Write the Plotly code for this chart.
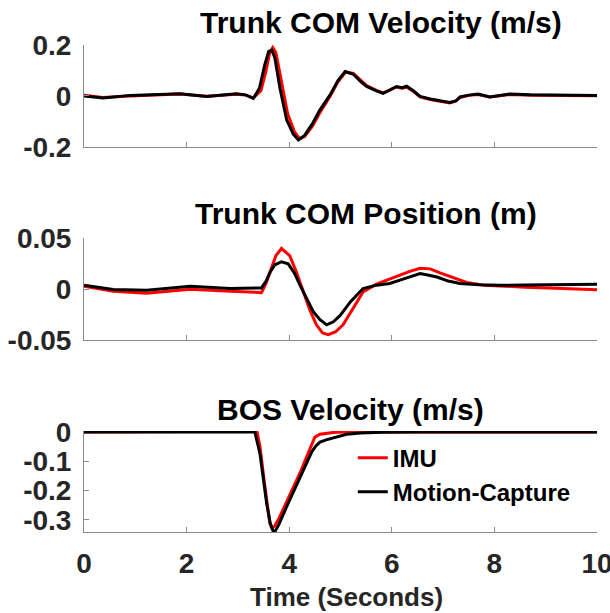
import plotly.graph_objects as go

# ---------------- data ----------------
# Panel 1: Trunk COM velocity (m/s)
t_vel_mc = [0, 0.37, 0.9, 1.4, 1.87, 2.39, 2.97, 3.15, 3.3, 3.42, 3.52, 3.6, 3.66, 3.72, 3.82, 3.95,
            4.08, 4.18, 4.3, 4.45, 4.6, 4.8, 4.95, 5.09, 5.25, 5.4, 5.51, 5.7, 5.83, 5.95, 6.09, 6.2,
            6.29, 6.42, 6.55, 6.75, 6.94, 7.13, 7.25, 7.33, 7.5, 7.68, 7.91, 8.1, 8.3, 8.7, 9.2, 9.6, 10]
v_vel_mc = [0, -0.008, 0.002, 0.006, 0.008, -0.002, 0.008, 0.004, -0.01, 0.03, 0.12, 0.175, 0.18, 0.15,
            0.03, -0.094, -0.15, -0.173, -0.155, -0.11, -0.055, 0.005, 0.06, 0.096, 0.085, 0.055, 0.037,
            0.02, 0.01, 0.022, 0.037, 0.032, 0.038, 0.02, -0.002, -0.012, -0.018, -0.026, -0.02, -0.004,
            0.003, 0.007, -0.004, 0.002, 0.007, 0.004, 0.003, 0.003, 0.002]
t_vel_imu = [0, 0.37, 0.9, 1.4, 1.87, 2.39, 2.97, 3.15, 3.3, 3.45, 3.55, 3.62, 3.68, 3.74, 3.84, 3.97,
             4.1, 4.2, 4.3, 4.45, 4.6, 4.8, 4.95, 5.1, 5.25, 5.4, 5.51, 5.7, 5.83, 5.95, 6.09, 6.2,
             6.29, 6.42, 6.55, 6.75, 6.94, 7.13, 7.25, 7.33, 7.5, 7.68, 7.91, 8.1, 8.3, 8.7, 9.2, 9.6, 10]
v_vel_imu = [0.003, -0.006, 0.0, 0.005, 0.007, -0.001, 0.006, 0.003, -0.008, 0.02, 0.1, 0.17, 0.19, 0.17,
             0.06, -0.07, -0.14, -0.168, -0.16, -0.12, -0.065, 0.0, 0.055, 0.094, 0.088, 0.058, 0.04,
             0.022, 0.012, 0.022, 0.035, 0.03, 0.034, 0.018, -0.004, -0.014, -0.02, -0.028, -0.02, -0.006,
             0.002, 0.005, -0.004, 0.001, 0.005, 0.003, 0.002, 0.002, 0.001]

# Panel 2: Trunk COM position (m)
t_pos_mc = [0, 0.57, 1.22, 2.07, 2.85, 3.2, 3.46, 3.55, 3.63, 3.72, 3.85, 3.98, 4.1, 4.21, 4.35, 4.47,
            4.6, 4.73, 4.86, 4.99, 5.2, 5.44, 5.7, 5.96, 6.16, 6.35, 6.55, 6.7, 6.88, 7.1, 7.33, 7.7,
            8.1, 8.6, 9.2, 9.92, 10]
p_pos_mc = [0.004, -0.0003, -0.001, 0.003, 0.0007, 0.001, 0.0013, 0.008, 0.017, 0.024, 0.027, 0.025,
            0.016, 0.004, -0.01, -0.022, -0.03, -0.035, -0.032, -0.026, -0.012, 0.0007, 0.004, 0.0056,
            0.0089, 0.012, 0.0154, 0.014, 0.012, 0.008, 0.0056, 0.0045, 0.0039, 0.0042, 0.0046, 0.0049,
            0.0049]
t_pos_imu = [0, 0.57, 1.22, 2.07, 2.85, 3.2, 3.46, 3.55, 3.63, 3.74, 3.85, 4.01, 4.14, 4.27, 4.4, 4.53,
             4.65, 4.76, 4.9, 5.05, 5.25, 5.44, 5.7, 5.9, 6.16, 6.35, 6.55, 6.75, 6.94, 7.2, 7.46, 7.8,
             8.1, 8.6, 9.2, 9.92, 10]
p_pos_imu = [0.003, -0.002, -0.004, 0.0, -0.002, -0.003, -0.0033, 0.006, 0.017, 0.033, 0.040, 0.033,
             0.017, -0.0026, -0.02, -0.035, -0.043, -0.0446, -0.042, -0.035, -0.018, -0.0026, 0.005,
             0.0089, 0.0138, 0.0175, 0.0205, 0.02, 0.016, 0.011, 0.0066, 0.004, 0.003, 0.002, 0.001,
             -0.0003, -0.0005]

# Panel 3: BOS velocity (m/s)
t_bos_mc = [0, 1.0, 2.0, 3.0, 3.33, 3.43, 3.5, 3.56, 3.63, 3.69, 3.72, 3.8, 3.95, 4.08, 4.21, 4.33,
            4.44, 4.52, 4.6, 4.72, 4.86, 5.0, 5.12, 5.4, 5.8, 6.5, 8.0, 10]
v_bos_mc = [0, 0, 0, 0, 0, -0.074, -0.17, -0.243, -0.31, -0.34, -0.34, -0.315, -0.255, -0.205, -0.153,
            -0.108, -0.068, -0.048, -0.035, -0.027, -0.02, -0.013, -0.008, -0.004, -0.001, 0, 0, 0]
t_bos_imu = [0, 1.0, 2.0, 3.0, 3.3, 3.37, 3.43, 3.5, 3.56, 3.62, 3.66, 3.72, 3.8, 3.95, 4.08, 4.21,
             4.34, 4.42, 4.5, 4.6, 4.73, 4.9, 5.2, 6.0, 8.0, 10]
v_bos_imu = [0, 0, 0, 0, 0.002, 0.003, -0.05, -0.15, -0.24, -0.31, -0.328, -0.32, -0.295, -0.24,
             -0.19, -0.14, -0.085, -0.05, -0.018, -0.008, -0.004, -0.001, 0, 0, 0, 0]

titles = ["Trunk COM Velocity (m/s)", "Trunk COM Position (m)", "BOS Velocity (m/s)"]
x_ticks = [0, 2, 4, 6, 8, 10]
y_ticks = [[-0.2, 0, 0.2], [-0.05, 0, 0.05], [-0.3, -0.2, -0.1, 0]]
y_ticklabels = [["-0.2", "0", "0.2"], ["-0.05", "0", "0.05"], ["-0.3", "-0.2", "-0.1", "0"]]
y_ranges = [[-0.2, 0.2], [-0.05, 0.05], [-0.341, 0.003]]
series_names = ["IMU", "Motion-Capture"]

# ---------------- figure ----------------
RED = "#ff0000"
BLACK = "#000000"
FONT = "Liberation Sans"
TXT = "#262626"
AX = "#8c8c8c"

fig = go.Figure()
panels = [
    (t_vel_imu, v_vel_imu, t_vel_mc, v_vel_mc),
    (t_pos_imu, p_pos_imu, t_pos_mc, p_pos_mc),
    (t_bos_imu, v_bos_imu, t_bos_mc, v_bos_mc),
]
for i, (ti, vi, tm, vm) in enumerate(panels):
    xa = "x" if i == 0 else f"x{i+1}"
    ya = "y" if i == 0 else f"y{i+1}"
    fig.add_trace(go.Scatter(x=ti, y=vi, mode="lines", line=dict(color=RED, width=3),
                             name=series_names[0], showlegend=(i == 2), xaxis=xa, yaxis=ya))
    fig.add_trace(go.Scatter(x=tm, y=vm, mode="lines", line=dict(color=BLACK, width=3),
                             name=series_names[1], showlegend=(i == 2), xaxis=xa, yaxis=ya))

domains = [[0.791, 1.0], [0.394, 0.603], [0.0, 0.2074]]
layout = dict(
    width=610, height=613,
    margin=dict(l=84, r=13, t=45, b=81, autoexpand=False),
    paper_bgcolor="white", plot_bgcolor="white",
    font=dict(family=FONT, color=TXT),
    legend=dict(x=0.524, y=0.198, xanchor="left", yanchor="top",
                bgcolor="rgba(0,0,0,0)", borderwidth=0,
                font=dict(family=FONT, size=24, color="#000000", weight="bold"),
                tracegroupgap=0),
    showlegend=True,
)
for i in range(3):
    xk = "xaxis" if i == 0 else f"xaxis{i+1}"
    yk = "yaxis" if i == 0 else f"yaxis{i+1}"
    layout[xk] = dict(
        domain=[0, 1], range=[0, 10], anchor="y" if i == 0 else f"y{i+1}",
        tickvals=x_ticks, ticktext=[str(v) for v in x_ticks], showticklabels=(i == 2),
        ticks="inside", ticklen=5, tickcolor=AX, showline=True, linecolor=AX, linewidth=1,
        showgrid=False, zeroline=False, ticklabelstandoff=6, ticklabeloverflow="allow",
        automargin=False,
        tickfont=dict(family=FONT, size=28, color=TXT, weight="bold"),
    )
    layout[yk] = dict(
        domain=domains[i], range=y_ranges[i], anchor="x" if i == 0 else f"x{i+1}",
        tickvals=y_ticks[i], ticktext=y_ticklabels[i],
        ticks="inside", ticklen=5, tickcolor=AX, showline=True, linecolor=AX, linewidth=1,
        showgrid=False, zeroline=False, ticklabelstandoff=6, ticklabeloverflow="allow",
        automargin=False,
        tickfont=dict(family=FONT, size=28, color=TXT, weight="bold"),
    )
fig.update_layout(**layout)

ann_pos = [(0.579, 1.047), (0.55, 0.653), (0.519, 0.2525)]
for (ax_, ay_), txt in zip(ann_pos, titles):
    fig.add_annotation(text=txt, x=ax_, y=ay_, xref="paper", yref="paper",
                       xanchor="center", yanchor="middle", showarrow=False,
                       font=dict(family=FONT, size=30, color="#000000", weight="bold"))
fig.add_annotation(text="Time (Seconds)", x=0.511, y=-0.1335, xref="paper", yref="paper",
                   xanchor="center", yanchor="middle", showarrow=False,
                   font=dict(family=FONT, size=26, color=TXT, weight="bold"))

fig.write_html("out.html")
